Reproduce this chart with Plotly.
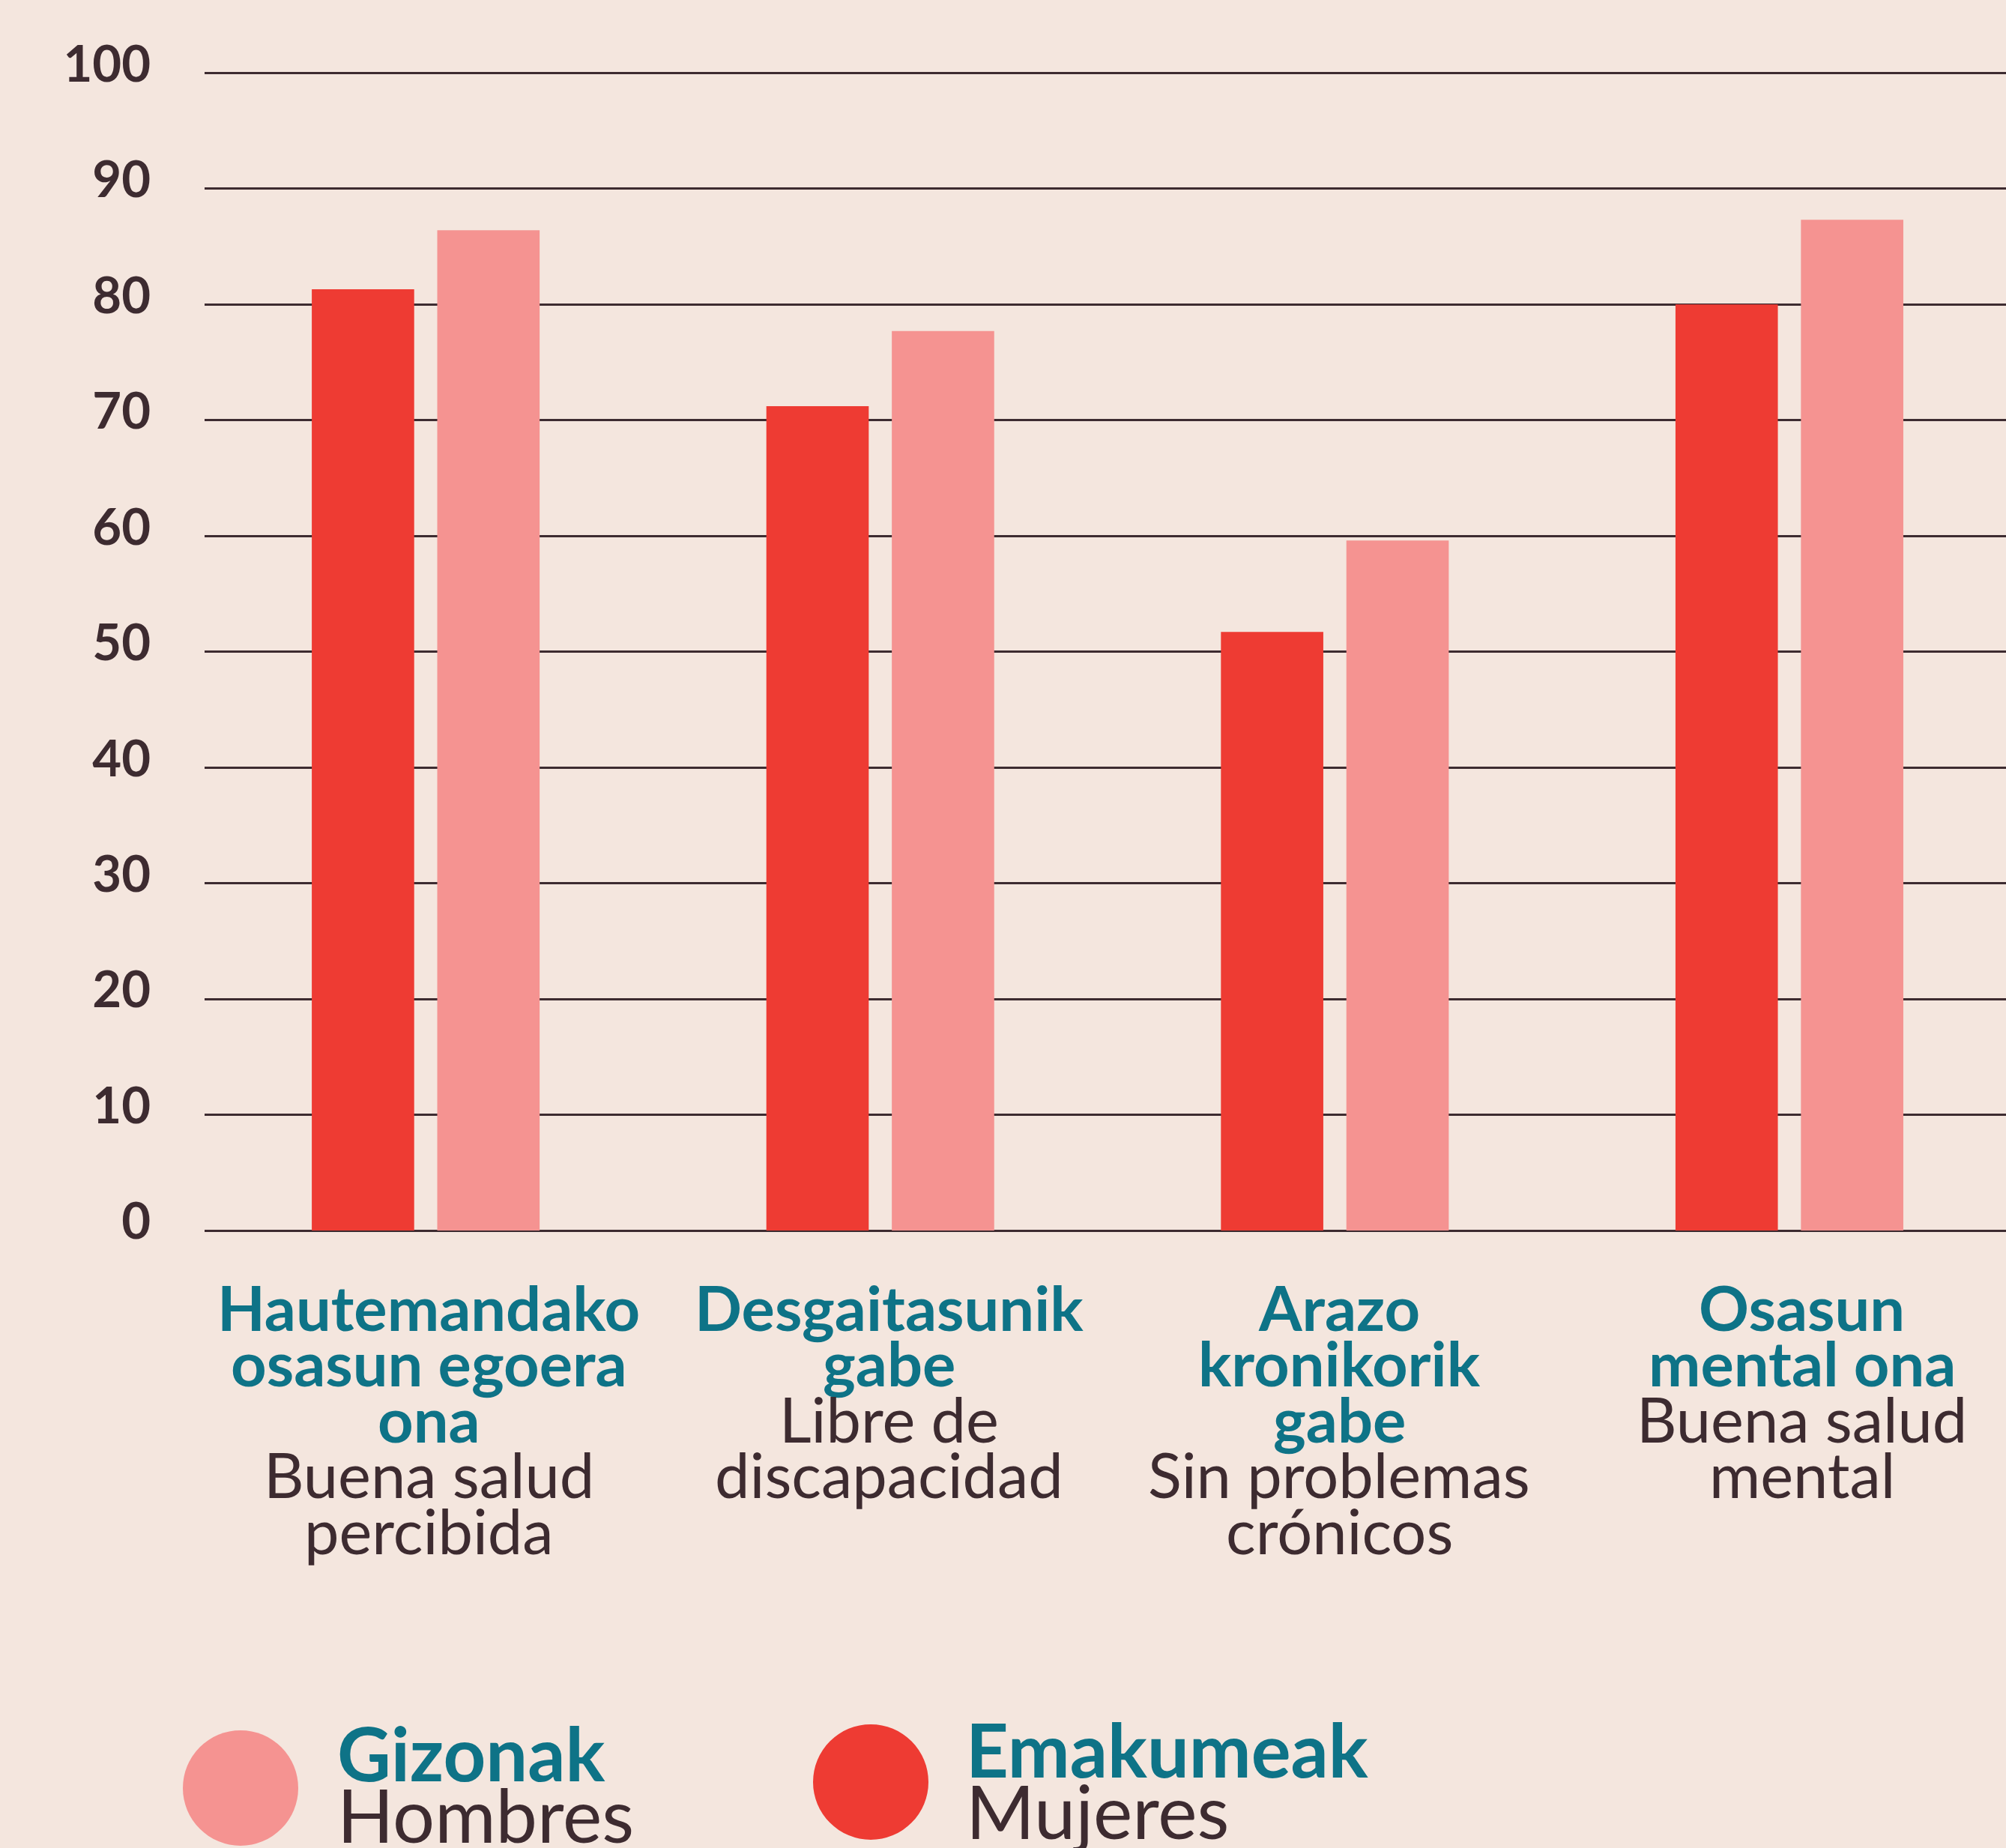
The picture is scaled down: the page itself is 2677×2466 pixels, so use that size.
import plotly.graph_objects as go

# data
categories = ["Hautemandako osasun egoera ona", "Desgaitasunik gabe",
              "Arazo kronikorik gabe", "Osasun mental ona"]
label_eu = [["Hautemandako", "osasun egoera", "ona"],
            ["Desgaitasunik", "gabe"],
            ["Arazo", "kronikorik", "gabe"],
            ["Osasun", "mental ona"]]
label_es = [["Buena salud", "percibida"],
            ["Libre de", "discapacidad"],
            ["Sin problemas", "crónicos"],
            ["Buena salud", "mental"]]
emakumeak = [81.3, 71.2, 51.7, 80.0]
gizonak = [86.4, 77.7, 59.6, 87.3]
y_ticks = [0, 10, 20, 30, 40, 50, 60, 70, 80, 90, 100]

BG = "#f4e6de"
RED = "#ee3b33"
PINK = "#f59391"
TEAL = "#0e7387"
DARK = "#3d2b30"
FONT = "Lato"

W, H = 2677, 2466
y_top_px = 97        # where 100 sits
y_zero_px = 1642     # where 0 sits
ymax = 100.4
plot_top = y_zero_px - (y_zero_px - y_top_px) * ymax / 100
L = 273
T = plot_top
B = H - y_zero_px
plot_h = y_zero_px - plot_top
plot_w = W - L

fig = go.Figure()
fig.add_trace(go.Bar(x=categories, y=emakumeak, name="Emakumeak",
                     marker=dict(color=RED, line=dict(width=0))))
fig.add_trace(go.Bar(x=categories, y=gizonak, name="Gizonak",
                     marker=dict(color=PINK, line=dict(width=0))))

# category labels, one annotation per line
fs = 83
pitch = 74.5
first_base = 1776
label_dx = [4, 12, 6, 17]
anns = []
for cat, eu, es, dx in zip(categories, label_eu, label_es, label_dx):
    lines = [(t, TEAL, True) for t in eu] + [(t, DARK, False) for t in es]
    for i, (txt, col, bold) in enumerate(lines):
        base = first_base + i * pitch
        center = base - 0.39 * fs
        anns.append(dict(x=cat, y=0, xref="x", yref="y", xanchor="center", yanchor="middle",
                         xshift=dx, yshift=y_zero_px - center, showarrow=False,
                         text=f"<b>{txt}</b>" if bold else txt,
                         font=dict(family=FONT, size=fs, color=col)))


# legend
def px_x(p):
    return (p - L) / plot_w


def px_y(p):
    return (y_zero_px - p) / plot_h


lfs = 99
legend_items = [("Gizonak", "Hombres", PINK, 321, 2386, 448, 2377),
                ("Emakumeak", "Mujeres", RED, 1162, 2378, 1287, 2372)]
shapes = []
for eu, es, col, cx, cy, tx, tb in legend_items:
    shapes.append(dict(type="circle", xref="paper", yref="paper",
                       xsizemode="pixel", ysizemode="pixel",
                       xanchor=px_x(cx), yanchor=px_y(cy),
                       x0=-77, x1=77, y0=-77, y1=77,
                       fillcolor=col, line=dict(width=0)))
    for j, (txt, c, bold) in enumerate([(eu, TEAL, True), (es, DARK, False)]):
        base = tb + j * 82
        center = base - 0.39 * lfs
        anns.append(dict(x=px_x(tx), y=px_y(center), xref="paper", yref="paper",
                         xanchor="left", yanchor="middle", showarrow=False,
                         text=f"<b>{txt}</b>" if bold else txt,
                         font=dict(family=FONT, size=lfs, color=c)))

fig.update_layout(
    width=W, height=H,
    paper_bgcolor=BG, plot_bgcolor=BG,
    margin=dict(l=L, r=0, t=T, b=B),
    barmode="group", bargap=0.448, bargroupgap=0.184,
    showlegend=False,
    annotations=anns, shapes=shapes,
    font=dict(family=FONT, color=DARK),
)
fig.update_xaxes(range=[-0.4865, 3.4765], showticklabels=False, showgrid=False,
                 zeroline=False, showline=False, ticks="")
fig.update_yaxes(range=[0, ymax], tickvals=y_ticks,
                 tickfont=dict(family=FONT, size=67, color=DARK, weight="bold"),
                 showgrid=True, gridcolor=DARK, gridwidth=2.5,
                 zeroline=True, zerolinecolor=DARK, zerolinewidth=3,
                 showline=False, ticks="", ticklabelstandoff=71, ticklabelshift=-12)

fig.write_html("out.html", config={"displayModeBar": False},
               post_script="document.body.style.margin='0';"
                           "document.body.style.background='" + BG + "';")
